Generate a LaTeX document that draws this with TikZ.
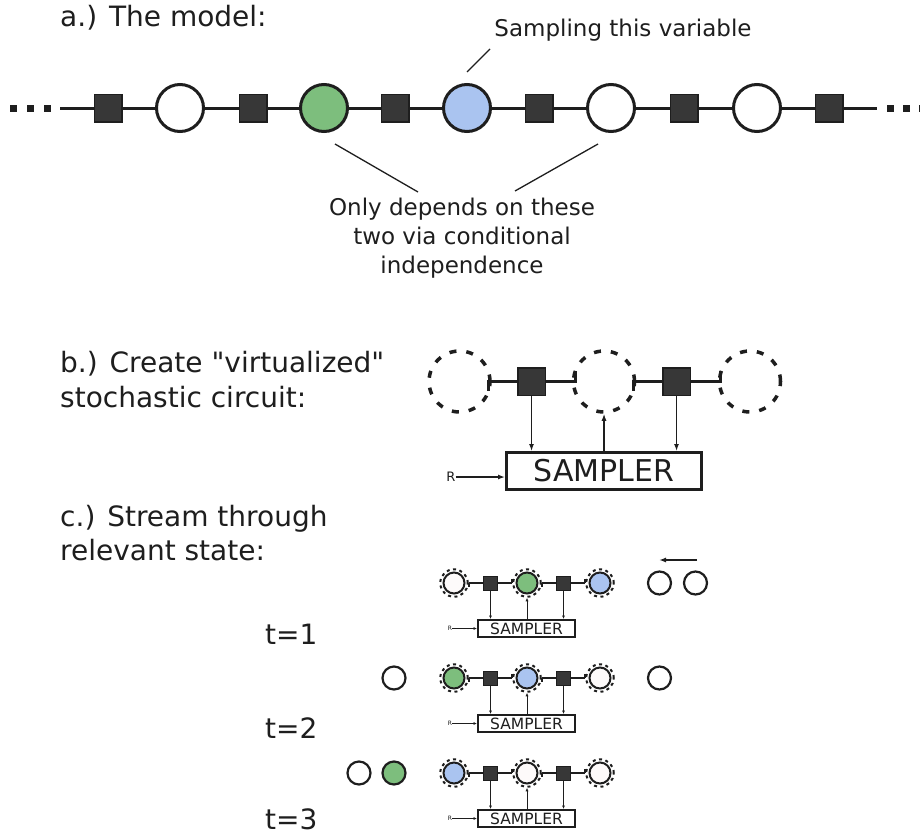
\documentclass[tikz,border=0pt]{standalone}
\usepackage{fontspec}
\setmainfont{DejaVu Sans}[Ligatures=TeXOff]
\usetikzlibrary{arrows.meta}
\definecolor{ink}{RGB}{30,30,30}
\definecolor{facfill}{RGB}{55,55,55}
\definecolor{vgreen}{RGB}{125,190,125}
\definecolor{vblue}{RGB}{170,196,240}
\definecolor{vwhite}{RGB}{253,250,250}
\tikzset{
  var/.style={circle, draw=ink, line width=3pt, minimum size=47pt, inner sep=0pt, fill=white},
  fac/.style={rectangle, draw=ink, fill=facfill, line width=1.5pt, minimum size=27.5pt, inner sep=0pt},
  dotsq/.style={rectangle, fill=ink, minimum size=7pt, inner sep=0pt},
  chainline/.style={draw=ink, line width=3pt},
  lab/.style={font=\fontsize{28}{34}\selectfont, anchor=base west, inner sep=0pt, text=ink},
  note/.style={font=\fontsize{23}{28}\selectfont, anchor=base, inner sep=0pt, text=ink},
  ptr/.style={draw=ink, line width=1.3pt},
  vvar/.style={circle, draw=ink, line width=3.5pt, dash pattern=on 7pt off 10pt, minimum size=61pt, inner sep=0pt},
  stub/.style={draw=ink, line width=3pt},
  arr/.style={draw=ink, line width=1.3pt, -{Latex[length=7pt,width=5pt]}},
  sampler/.style={draw=ink, line width=3pt, minimum width=195pt, minimum height=37pt, inner sep=0pt, font=\fontsize{30}{36}\selectfont, text=ink},
  smallR/.style={font=\fontsize{13}{15}\selectfont, inner sep=0pt, text=ink},
  cvar/.style={circle, draw=ink, line width=2pt, minimum size=21pt, inner sep=0pt},
  ring/.style={circle, draw=ink, line width=2pt, dash pattern=on 3pt off 3.5pt, minimum size=27.5pt, inner sep=0pt},
  cfac/.style={rectangle, draw=ink, fill=facfill, line width=1pt, minimum size=14pt, inner sep=0pt},
  cstub/.style={draw=ink, line width=2pt},
  carr/.style={draw=ink, line width=0.8pt, -{Latex[length=3.5pt,width=3pt]}},
  csampler/.style={draw=ink, line width=2pt, minimum width=97pt, minimum height=17pt, inner sep=0pt, font=\fontsize{15.5}{18}\selectfont, text=ink},
  tinyR/.style={font=\fontsize{6}{7}\selectfont, inner sep=0pt, text=ink},
  plain/.style={circle, draw=ink, line width=2.2pt, minimum size=23pt, inner sep=0pt},
  movearr/.style={draw=ink, line width=1.5pt, -{Latex[length=7pt,width=5pt]}}
}
\newcommand\cchain[5]{%
  \node[cvar,fill=#3] (#1c1) at (454,#2) {};
  \node[cvar,fill=#4] (#1c2) at (527,#2) {};
  \node[cvar,fill=#5] (#1c3) at (600,#2) {};
  \node[ring] (#1r1) at (454,#2) {};
  \node[ring] (#1r2) at (527,#2) {};
  \node[ring] (#1r3) at (600,#2) {};
  \node[cfac] (#1s1) at (490.5,#2) {};
  \node[cfac] (#1s2) at (563.5,#2) {};
  \node[csampler] (#1b) at (526.5,#2+45.5) {SAMPLER};
  \node[tinyR] (#1R) at (450,#2+45.5) {R};
  \draw[cstub] (#1s1.west) -- (#1r1.east);
  \draw[cstub] (#1s1.east) -- (#1r2.west);
  \draw[cstub] (#1s2.west) -- (#1r2.east);
  \draw[cstub] (#1s2.east) -- (#1r3.west);
  \draw[cstub] (#1r1.east) -- ++(0,4);
  \draw[cstub] (#1r2.west) -- ++(0,-4);
  \draw[cstub] (#1r2.east) -- ++(0,4);
  \draw[cstub] (#1r3.west) -- ++(0,-4);
  \draw[carr] (#1s1.south) -- (#1s1.south |- #1b.north);
  \draw[carr] (#1b.north -| #1c2) -- (#1r2.south);
  \draw[carr] (#1s2.south) -- (#1s2.south |- #1b.north);
  \draw[carr] (#1R.east) -- (#1R.east -| #1b.west);
}
\begin{document}
\begin{tikzpicture}[x=1pt,y=-1pt]
\useasboundingbox[fill=white] (0,0) rectangle (920,836);

% ---------- a.) the model ----------
\node[lab] (ta) at (60,26) {a.) The model:};
\node[dotsq] (dl1) at (13,108) {};
\node[dotsq] (dl2) at (30,108) {};
\node[dotsq] (dl3) at (47,108) {};
\node[dotsq] (dr1) at (890,108) {};
\node[dotsq] (dr2) at (906,108) {};
\node[dotsq] (dr3) at (922,108) {};
\coordinate (La) at (60,108);
\coordinate (Ra) at (877,108);
\node[fac] (f1) at (108,108) {};
\node[var] (a1) at (180,108) {};
\node[fac] (f2) at (253,108) {};
\node[var, fill=vgreen] (a2) at (324,108) {};
\node[fac] (f3) at (395,108) {};
\node[var, fill=vblue] (a3) at (467,108) {};
\node[fac] (f4) at (539,108) {};
\node[var] (a4) at (611,108) {};
\node[fac] (f5) at (684,108) {};
\node[var] (a5) at (757,108) {};
\node[fac] (f6) at (829,108) {};
\draw[chainline] (La) -- (f1) (f1) -- (a1) (a1) -- (f2) (f2) -- (a2) (a2) -- (f3) (f3) -- (a3)
  (a3) -- (f4) (f4) -- (a4) (a4) -- (f5) (f5) -- (a5) (a5) -- (f6) (f6) -- (Ra);

\node[note] (samp) at (623,36) {Sampling this variable};
\coordinate (sp1) at (490,49);
\coordinate (sp2) at (467,72);
\draw[ptr] (sp1) -- (sp2);

\coordinate (d1a) at (335,144);
\coordinate (d1b) at (418,192);
\coordinate (d2a) at (598,144);
\coordinate (d2b) at (515,191);
\draw[ptr] (d1a) -- (d1b);
\draw[ptr] (d2a) -- (d2b);
\node[note] (dep1) at (462,215) {Only depends on these};
\node[note] (dep2) at (462,244) {two via conditional};
\node[note] (dep3) at (462,273) {independence};

% ---------- b.) virtualized circuit ----------
\node[lab] (tb1) at (60,372) {b.) Create "virtualized"};
\node[lab] (tb2) at (60,407) {stochastic circuit:};
\node[vvar] (b1) at (459.5,381.5) {};
\node[vvar] (b2) at (604,381.5) {};
\node[vvar] (b3) at (750,381.5) {};
\node[fac] (bs1) at (531.5,381.5) {};
\node[fac] (bs2) at (676.5,381.5) {};
\coordinate (bk1) at (488,381);
\coordinate (bk2) at (575,381);
\coordinate (bk3) at (633,381);
\coordinate (bk4) at (720,381);
\coordinate (bt1) at (488,391);
\coordinate (bt2) at (575,371);
\coordinate (bt3) at (633,391);
\coordinate (bt4) at (720,371);
\draw[stub] (bs1.west |- bk1) -- (bk1);
\draw[stub] (bs1.east |- bk2) -- (bk2);
\draw[stub] (bs2.west |- bk3) -- (bk3);
\draw[stub] (bs2.east |- bk4) -- (bk4);
\draw[stub] ([yshift=1.5pt]bk1) -- (bt1);
\draw[stub] ([yshift=-1.5pt]bk2) -- (bt2);
\draw[stub] ([yshift=1.5pt]bk3) -- (bt3);
\draw[stub] ([yshift=-1.5pt]bk4) -- (bt4);
\node[sampler] (bsam) at (604,471) {SAMPLER};
\node[smallR] (bR) at (451,477) {R};
\draw[arr] (bs1.south) -- (bs1.south |- bsam.north);
\draw[arr] (bsam.north -| b2) -- (b2.south);
\draw[arr] (bs2.south) -- (bs2.south |- bsam.north);
\draw[arr] (bR.east) -- (bR.east -| bsam.west);

% ---------- c.) stream ----------
\node[lab] (tc1) at (60,526) {c.) Stream through};
\node[lab] (tc2) at (60,560) {relevant state:};
\node[lab] (t1) at (265,644) {t=1};
\node[lab] (t2) at (265,738) {t=2};
\node[lab] (t3) at (265,829) {t=3};

\cchain{p}{583}{vwhite}{vgreen}{vblue}
\cchain{q}{678}{vgreen}{vblue}{vwhite}
\cchain{w}{773}{vblue}{vwhite}{vwhite}

\node[plain] (e1) at (659.5,583) {};
\node[plain] (e2) at (695.5,583) {};
\coordinate (m1) at (697,560);
\coordinate (m2) at (659,560);
\draw[movearr] (m1) -- (m2);
\node[plain] (e3) at (394,678) {};
\node[plain] (e4) at (659.5,678) {};
\node[plain] (e5) at (359,773) {};
\node[plain, fill=vgreen] (e6) at (394,773) {};
\end{tikzpicture}
\end{document}
